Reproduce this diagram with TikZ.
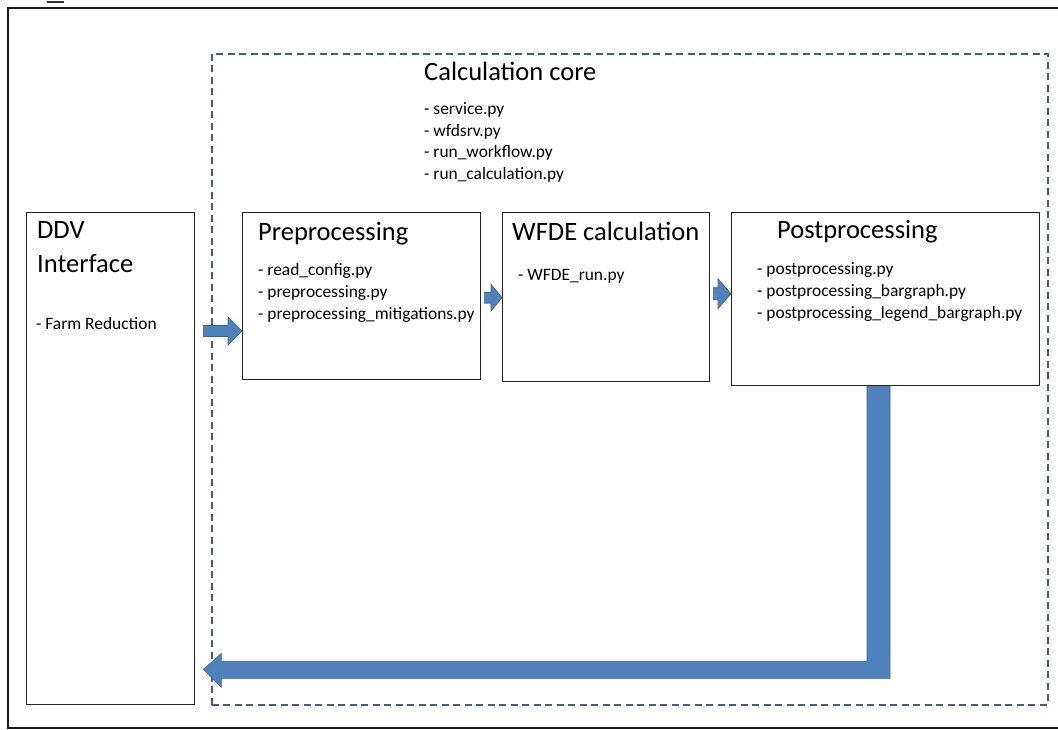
\documentclass[tikz,border=0pt]{standalone}
\usepackage{fontspec}
\setmainfont{Carlito}
\usetikzlibrary{calc}

\definecolor{arrowblue}{RGB}{79,129,189}
\definecolor{arrowedge}{RGB}{58,96,142}
\definecolor{dashblue}{RGB}{62,94,136}

% horizontal block arrow: tail, tip, shaft half-height, head half-height, head length
\newcommand\blockarrowto[5]{%
  \draw[blockarrow] ($(#1)+(0,-#3)$) -- ($(#2)+(-#5,-#3)$) -- ($(#2)+(-#5,-#4)$)
    -- (#2) -- ($(#2)+(-#5,#4)$) -- ($(#2)+(-#5,#3)$) -- ($(#1)+(0,#3)$) -- cycle;}

\begin{document}
\begin{tikzpicture}[x=1pt,y=-1pt,
  box/.style={draw=black!85, line width=1.4pt, anchor=north west, inner sep=0pt},
  corebox/.style={draw=dashblue, line width=1.7pt, dash pattern=on 7pt off 4.5pt,
    anchor=north west, inner sep=0pt},
  title/.style={anchor=base west, inner sep=0pt, font=\fontsize{26.5}{31}\selectfont},
  item/.style={anchor=base west, inner sep=0pt, font=\fontsize{17.4}{21}\selectfont},
  blockarrow/.style={fill=arrowblue, draw=arrowedge, line width=0.6pt, line join=miter}]

\useasboundingbox (0,0) rectangle (1058,729);

% outer frame
\draw[line width=1.6pt, black!90] (1070,8) -- (8,8) -- (8,728) -- (1070,728);
\draw[line width=1.4pt, black!80] (47,2) -- (64,2);

% calculation core region
\node[corebox, minimum width=836, minimum height=651] (core) at (211,53) {};
\node[title] (coret) at (424,80) {Calculation core};
\node[item] (core1) at (424,114) {- service.py};
\node[item] (core2) at (424,136) {- wfdsrv.py};
\node[item] (core3) at (424,157) {- run\_workflow.py};
\node[item] (core4) at (424,179) {- run\_calculation.py};

% DDV interface
\node[box, minimum width=168, minimum height=492] (ddv) at (26,212) {};
\node[title] (ddvt1) at (37,238) {DDV};
\node[title] (ddvt2) at (37,272) {Interface};
\node[item] (ddv1) at (36,329) {- Farm Reduction};

% preprocessing
\node[box, minimum width=238, minimum height=167] (pre) at (242,212) {};
\node[title] (pret) at (258,240) {Preprocessing};
\node[item] (pre1) at (258,275) {- read\_config.py};
\node[item] (pre2) at (258,297) {- preprocessing.py};
\node[item] (pre3) at (258,319) {- preprocessing\_mitigations.py};

% WFDE calculation
\node[box, minimum width=207, minimum height=169] (wfde) at (502,212) {};
\node[title] (wfdet) at (512,240) {WFDE calculation};
\node[item] (wfde1) at (518,280) {- WFDE\_run.py};

% postprocessing
\node[box, minimum width=308, minimum height=173] (post) at (731,212) {};
\node[title] (postt) at (777,238) {Postprocessing};
\node[item] (post1) at (757,274) {- postprocessing.py};
\node[item] (post2) at (757,296) {- postprocessing\_bargraph.py};
\node[item] (post3) at (757,318) {- postprocessing\_legend\_bargraph.py};

% forward arrows between the stages
\coordinate (a1t) at ($(ddv.north east)+(8,119)$);
\coordinate (a1h) at (pre.west |- a1t);
\blockarrowto{a1t}{a1h}{5.5}{14}{14}
\coordinate (a2t) at ($(pre.east)+(3,1.5)$);
\coordinate (a2h) at (wfde.west |- a2t);
\blockarrowto{a2t}{a2h}{5.5}{13.5}{11}
\coordinate (a3t) at ($(wfde.east)+(3,-3.5)$);
\coordinate (a3h) at (post.west |- a3t);
\blockarrowto{a3t}{a3h}{6}{15}{13}

% return arrow from postprocessing back to the interface
\coordinate (retTop) at ($(post.south west)+(136,0)$);
\coordinate (retRight) at ($(retTop)+(23,0)$);
\coordinate (retTip) at ($(ddv.south east)+(8,-36)$);
\coordinate (retUpper) at ($(retTip)+(18,-8)$);
\coordinate (retLower) at ($(retTip)+(18,9)$);
\coordinate (retHeadA) at ($(retTip)+(18,-16)$);
\coordinate (retHeadB) at ($(retTip)+(18,18)$);
\draw[blockarrow] (retTop) -- (retTop |- retUpper) -- (retUpper) -- (retHeadA)
  -- (retTip) -- (retHeadB) -- (retLower) -- (retRight |- retLower) -- (retRight) -- cycle;

\end{tikzpicture}
\end{document}
